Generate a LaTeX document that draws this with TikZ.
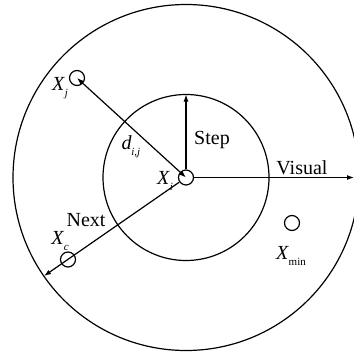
\documentclass[tikz,border=0pt]{standalone}
\usepackage{fontspec}
\setmainfont{Liberation Serif}
\usetikzlibrary{arrows.meta}
\newcommand{\Xsub}[2]{\textit{#1}\kern-0.3pt\raisebox{-0.3em}{\fontsize{11}{11}\selectfont #2}}
\tikzset{
  ring/.style={draw, line width=1.2pt},
  pt/.style={circle, draw, line width=1.2pt, minimum size=15pt, inner sep=0pt},
  arr/.style={line width=1.2pt, -{Latex[length=7pt,width=5pt]}},
  darr/.style={line width=1.2pt, {Latex[length=7pt,width=5pt]}-{Latex[length=7pt,width=5pt]}},
  lab/.style={font=\fontsize{20}{22}\selectfont, inner sep=0pt},
  xlab/.style={font=\fontsize{20}{22}\selectfont, inner sep=0pt}
}
\begin{document}
\begin{tikzpicture}[x=1pt,y=-1pt]
\useasboundingbox (0,0) rectangle (354,354);
\coordinate (c) at (186,177.5);
\draw[ring] (c) circle (173);
\draw[ring] (c) circle (83);
\node[pt] (xi) at (c) {};
\node[pt] (xj) at (77,78) {};
\node[pt] (xc) at (68,259.5) {};
\node[pt] (xmin) at (292,223) {};
\coordinate (top) at (186,94.5);
\coordinate (right) at (354,177.5);
\coordinate (next) at (44,276);
\draw[darr] (c) -- (xj.center);
\draw[arr] (xi.north) -- (top);
\draw[arr] (xi.east) -- (right);
\draw[arr] (xi) -- (next);
\node[lab] (step) at (212,140) {Step};
\node[lab] (visual) at (302,168) {Visual};
\node[lab] (nxt) at (86,220) {Next};
\node[xlab] (lxi) at (165,181) {\Xsub{X}{\textit{i}}};
\node[xlab] (lxj) at (60,88) {\Xsub{X}{\textit{j}}};
\node[xlab] (lxc) at (60,241) {\Xsub{X}{\textit{c}}};
\node[xlab] (lxmin) at (291,256) {\Xsub{X}{min}};
\node[xlab] (ldij) at (131,147) {\Xsub{d}{\textit{i},\textit{j}}};
\end{tikzpicture}
\end{document}
